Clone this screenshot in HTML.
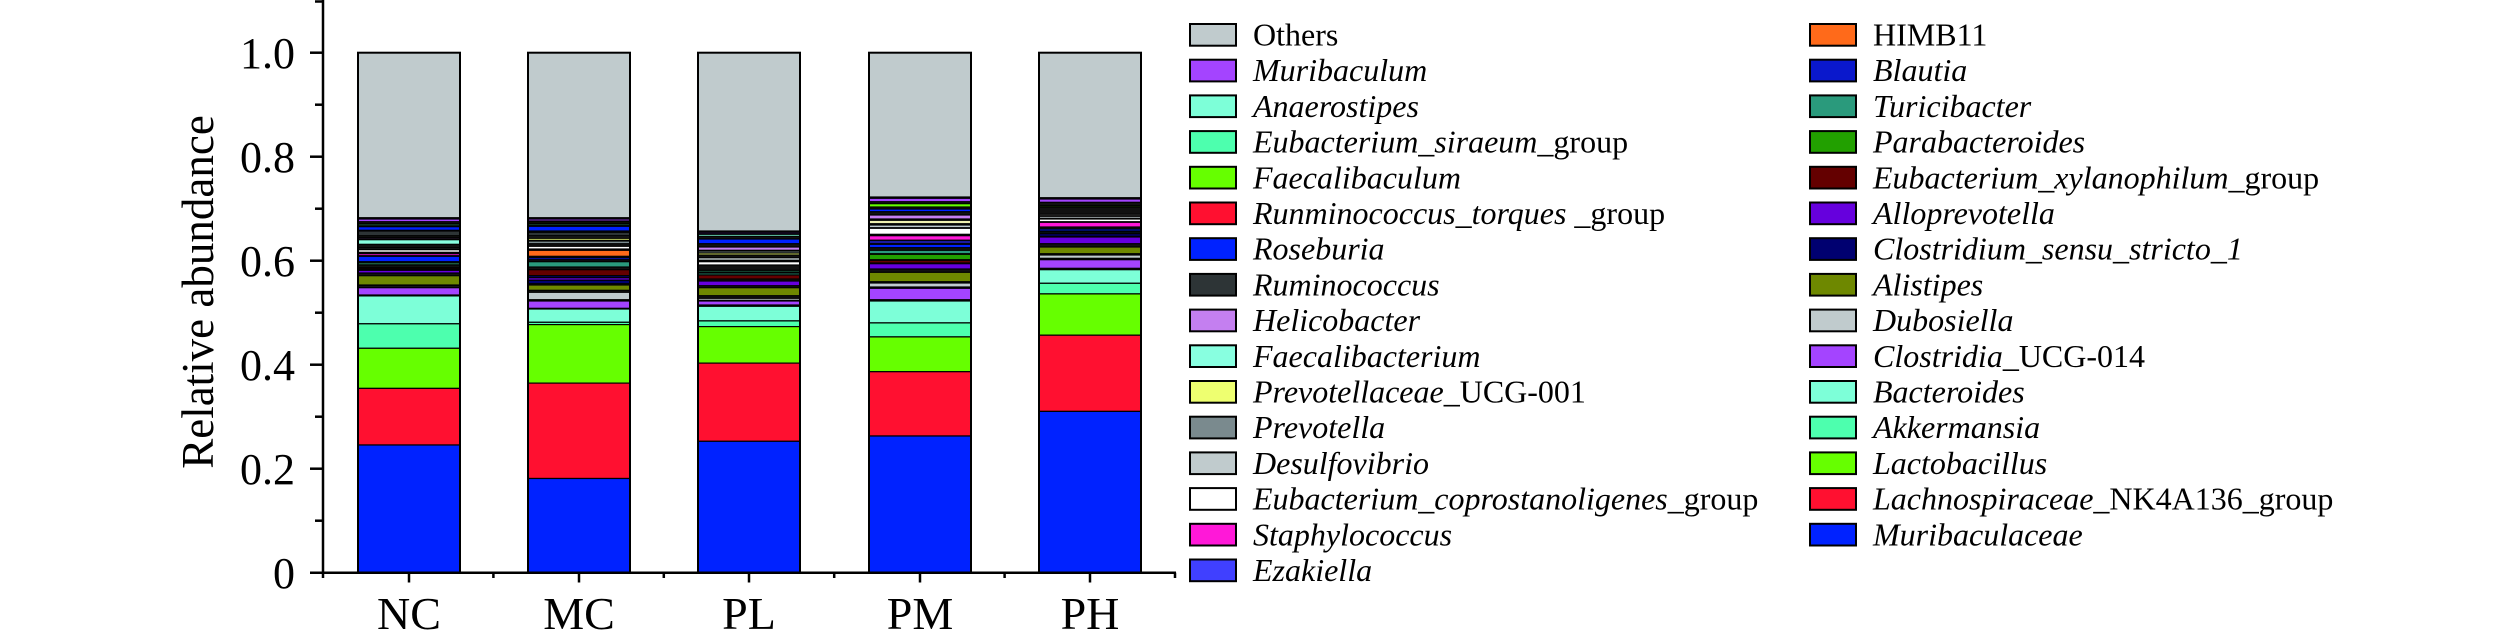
<!DOCTYPE html>
<html><head><meta charset="utf-8"><style>
html,body{margin:0;padding:0;background:#fff;}
svg{display:block;}
text{font-family:"Liberation Serif","Times New Roman",serif;fill:#000;}
.lg{font-size:32px;}
.it{font-style:italic;}
</style></head><body>
<svg width="2520" height="642" viewBox="0 0 2520 642" xmlns="http://www.w3.org/2000/svg">
<rect width="2520" height="642" fill="#fff"/>

<!-- Bars -->
<g stroke="#000" stroke-width="1.2">
<!-- NC x 358-460 -->
<rect x="358" y="52.7" width="102" height="520" fill="#111"/>
<rect x="358" y="52.7" width="102" height="165" fill="#c0cbcd"/>
<rect x="358" y="219" width="102" height="2.7" fill="#a444ff"/>
<rect x="358" y="223.7" width="102" height="2.3" fill="#1a4a30"/>
<rect x="358" y="226.7" width="102" height="3.6" fill="#0022ff"/>
<rect x="358" y="231" width="102" height="4.7" fill="#2d3436"/>
<rect x="358" y="237.7" width="102" height="1.3" fill="#c47ff0"/>
<rect x="358" y="239.7" width="102" height="4.6" fill="#88ffe0"/>
<rect x="358" y="247.7" width="102" height="1.3" fill="#c0cbcd"/>
<rect x="358" y="249.7" width="102" height="2.6" fill="#ffffff"/>
<rect x="358" y="253.7" width="102" height="2" fill="#ff18d8"/>
<rect x="358" y="256.3" width="102" height="5.4" fill="#0022ff"/>
<rect x="358" y="262.3" width="102" height="2.7" fill="#1a5a40"/>
<rect x="358" y="267.7" width="102" height="1.3" fill="#640000"/>
<rect x="358" y="270.3" width="102" height="2.7" fill="#6600dd"/>
<rect x="358" y="275.7" width="102" height="9.3" fill="#6e8800"/>
<rect x="358" y="285.7" width="102" height="1.3" fill="#c0cbcd"/>
<rect x="358" y="287.7" width="102" height="7.3" fill="#a444ff"/>
<rect x="358" y="295.9" width="102" height="27.9" fill="#7dffd8"/>
<rect x="358" y="323.8" width="102" height="24.5" fill="#4dffae"/>
<rect x="358" y="348.3" width="102" height="40.1" fill="#66ff00"/>
<rect x="358" y="388.4" width="102" height="56.6" fill="#ff1030"/>
<rect x="358" y="445" width="102" height="127.7" fill="#0022ff"/>

<!-- MC x 528-630 -->
<rect x="528" y="52.7" width="102" height="520" fill="#111"/>
<rect x="528" y="52.7" width="102" height="165" fill="#c0cbcd"/>
<rect x="528" y="219" width="102" height="2" fill="#a444ff"/>
<rect x="528" y="221.7" width="102" height="1.3" fill="#6e8800"/>
<rect x="528" y="223.7" width="102" height="2" fill="#1a4a30"/>
<rect x="528" y="226.3" width="102" height="4.7" fill="#0022ff"/>
<rect x="528" y="232.3" width="102" height="3.4" fill="#2d3436"/>
<rect x="528" y="236.3" width="102" height="1.4" fill="#c0cbcd"/>
<rect x="528" y="238.3" width="102" height="2" fill="#eeff70"/>
<rect x="528" y="241" width="102" height="2.7" fill="#7a8a8e"/>
<rect x="528" y="246.3" width="102" height="2.7" fill="#ffffff"/>
<rect x="528" y="250.3" width="102" height="6" fill="#ff6a1a"/>
<rect x="528" y="257.7" width="102" height="2" fill="#0a18cc"/>
<rect x="528" y="261.7" width="102" height="5.3" fill="#2a9a7c"/>
<rect x="528" y="269.7" width="102" height="6" fill="#640000"/>
<rect x="528" y="275.7" width="102" height="2" fill="#000070"/>
<rect x="528" y="277.7" width="102" height="2.6" fill="#6600dd"/>
<rect x="528" y="280.3" width="102" height="3.4" fill="#000070"/>
<rect x="528" y="285" width="102" height="5.3" fill="#6e8800"/>
<rect x="528" y="292.3" width="102" height="7.4" fill="#c0cbcd"/>
<rect x="528" y="301" width="102" height="7.3" fill="#a444ff"/>
<rect x="528" y="309" width="102" height="13.3" fill="#7dffd8"/>
<rect x="528" y="322.3" width="102" height="2.3" fill="#4dffae"/>
<rect x="528" y="324.6" width="102" height="58.5" fill="#66ff00"/>
<rect x="528" y="383.1" width="102" height="95.4" fill="#ff1030"/>
<rect x="528" y="478.5" width="102" height="94.2" fill="#0022ff"/>

<!-- PL x 698-800 -->
<rect x="698" y="52.7" width="102" height="520" fill="#111"/>
<rect x="698" y="52.7" width="102" height="178.3" fill="#c0cbcd"/>
<rect x="698" y="232.3" width="102" height="1.4" fill="#a444ff"/>
<rect x="698" y="234.3" width="102" height="2" fill="#7dffd8"/>
<rect x="698" y="239" width="102" height="4.7" fill="#0022ff"/>
<rect x="698" y="247" width="102" height="3.3" fill="#c47ff0"/>
<rect x="698" y="251" width="102" height="2" fill="#7a8a8e"/>
<rect x="698" y="253" width="102" height="2" fill="#eeff70"/>
<rect x="698" y="257.7" width="102" height="2.6" fill="#c0cbcd"/>
<rect x="698" y="261.7" width="102" height="3.3" fill="#ffffff"/>
<rect x="698" y="270.3" width="102" height="2" fill="#1a5a40"/>
<rect x="698" y="273" width="102" height="2" fill="#2a9a7c"/>
<rect x="698" y="275" width="102" height="4" fill="#640000"/>
<rect x="698" y="281" width="102" height="4.7" fill="#6600dd"/>
<rect x="698" y="287.7" width="102" height="8" fill="#6e8800"/>
<rect x="698" y="298.3" width="102" height="2" fill="#c0cbcd"/>
<rect x="698" y="301" width="102" height="4" fill="#a444ff"/>
<rect x="698" y="306.3" width="102" height="14.6" fill="#7dffd8"/>
<rect x="698" y="320.9" width="102" height="5.7" fill="#4dffae"/>
<rect x="698" y="326.6" width="102" height="36.5" fill="#66ff00"/>
<rect x="698" y="363.1" width="102" height="78.2" fill="#ff1030"/>
<rect x="698" y="441.3" width="102" height="131.4" fill="#0022ff"/>

<!-- PM x 869-971 -->
<rect x="869" y="52.7" width="102" height="520" fill="#111"/>
<rect x="869" y="52.7" width="102" height="144.3" fill="#c0cbcd"/>
<rect x="869" y="198.3" width="102" height="3.4" fill="#a444ff"/>
<rect x="869" y="203.7" width="102" height="3.3" fill="#66ff00"/>
<rect x="869" y="209" width="102" height="2.7" fill="#0022ff"/>
<rect x="869" y="215" width="102" height="4" fill="#c47ff0"/>
<rect x="869" y="220.3" width="102" height="3.4" fill="#f0f0b0"/>
<rect x="869" y="225" width="102" height="2.7" fill="#c0cbcd"/>
<rect x="869" y="228.3" width="102" height="6" fill="#ffffff"/>
<rect x="869" y="235.7" width="102" height="4.6" fill="#ff18d8"/>
<rect x="869" y="240.3" width="102" height="3.4" fill="#1a1aa0"/>
<rect x="869" y="244.3" width="102" height="3.4" fill="#0022ff"/>
<rect x="869" y="250.3" width="102" height="3.4" fill="#2a9a7c"/>
<rect x="869" y="254.3" width="102" height="5.4" fill="#22a000"/>
<rect x="869" y="260.3" width="102" height="2.7" fill="#640000"/>
<rect x="869" y="263.7" width="102" height="5.3" fill="#6600dd"/>
<rect x="869" y="272.3" width="102" height="9.4" fill="#6e8800"/>
<rect x="869" y="283" width="102" height="4" fill="#c0cbcd"/>
<rect x="869" y="288.3" width="102" height="11.4" fill="#a444ff"/>
<rect x="869" y="301" width="102" height="21.9" fill="#7dffd8"/>
<rect x="869" y="322.9" width="102" height="14" fill="#4dffae"/>
<rect x="869" y="336.9" width="102" height="34.8" fill="#66ff00"/>
<rect x="869" y="371.7" width="102" height="64.3" fill="#ff1030"/>
<rect x="869" y="436" width="102" height="136.7" fill="#0022ff"/>

<!-- PH x 1039-1141 -->
<rect x="1039" y="52.7" width="102" height="520" fill="#111"/>
<rect x="1039" y="52.7" width="102" height="145" fill="#c0cbcd"/>
<rect x="1039" y="199" width="102" height="3.3" fill="#a444ff"/>
<rect x="1039" y="205.7" width="102" height="1.3" fill="#66ff00"/>
<rect x="1039" y="214.3" width="102" height="1.4" fill="#ffffff"/>
<rect x="1039" y="216.3" width="102" height="2" fill="#c0cbcd"/>
<rect x="1039" y="219" width="102" height="2.7" fill="#ffffff"/>
<rect x="1039" y="222.3" width="102" height="4.7" fill="#ff18d8"/>
<rect x="1039" y="229" width="102" height="2" fill="#0022ff"/>
<rect x="1039" y="231.7" width="102" height="1.3" fill="#2a9a7c"/>
<rect x="1039" y="233.7" width="102" height="2.6" fill="#000070"/>
<rect x="1039" y="237" width="102" height="6.7" fill="#6600dd"/>
<rect x="1039" y="247" width="102" height="6.7" fill="#6e8800"/>
<rect x="1039" y="255" width="102" height="3.3" fill="#c0cbcd"/>
<rect x="1039" y="259.7" width="102" height="8.6" fill="#a444ff"/>
<rect x="1039" y="269.7" width="102" height="13.6" fill="#7dffd8"/>
<rect x="1039" y="283.3" width="102" height="10.6" fill="#4dffae"/>
<rect x="1039" y="293.9" width="102" height="41.3" fill="#66ff00"/>
<rect x="1039" y="335.2" width="102" height="76.2" fill="#ff1030"/>
<rect x="1039" y="411.4" width="102" height="161.3" fill="#0022ff"/>
</g>
<g fill="none" stroke="#000" stroke-width="2">
<rect x="358" y="52.7" width="102" height="520"/>
<rect x="528" y="52.7" width="102" height="520"/>
<rect x="698" y="52.7" width="102" height="520"/>
<rect x="869" y="52.7" width="102" height="520"/>
<rect x="1039" y="52.7" width="102" height="520"/>
</g>

<!-- Axes -->
<g stroke="#000" stroke-width="2.5" fill="none">
<line x1="323" y1="0" x2="323" y2="573.5"/>
<line x1="310" y1="572.7" x2="1176" y2="572.7"/>
<!-- y major ticks -->
<line x1="310" y1="468.7" x2="323" y2="468.7"/>
<line x1="310" y1="364.7" x2="323" y2="364.7"/>
<line x1="310" y1="260.7" x2="323" y2="260.7"/>
<line x1="310" y1="156.7" x2="323" y2="156.7"/>
<line x1="310" y1="52.7" x2="323" y2="52.7"/>
<!-- y minor ticks -->
<line x1="315" y1="520.7" x2="323" y2="520.7"/>
<line x1="315" y1="416.7" x2="323" y2="416.7"/>
<line x1="315" y1="312.7" x2="323" y2="312.7"/>
<line x1="315" y1="208.7" x2="323" y2="208.7"/>
<line x1="315" y1="104.7" x2="323" y2="104.7"/>
<line x1="315" y1="1.5" x2="323" y2="1.5"/>
<!-- x ticks -->
<line x1="323" y1="572.7" x2="323" y2="578"/>
<line x1="493.4" y1="572.7" x2="493.4" y2="578"/>
<line x1="663.8" y1="572.7" x2="663.8" y2="578"/>
<line x1="834.2" y1="572.7" x2="834.2" y2="578"/>
<line x1="1004.6" y1="572.7" x2="1004.6" y2="578"/>
<line x1="1175" y1="572.7" x2="1175" y2="578"/>
<line x1="409" y1="572.7" x2="409" y2="582.5"/>
<line x1="579" y1="572.7" x2="579" y2="582.5"/>
<line x1="749" y1="572.7" x2="749" y2="582.5"/>
<line x1="920" y1="572.7" x2="920" y2="582.5"/>
<line x1="1090" y1="572.7" x2="1090" y2="582.5"/>
</g>

<!-- Y tick labels -->
<g font-size="44" text-anchor="end">
<text x="295" y="588">0</text>
<text x="295" y="484">0.2</text>
<text x="295" y="380">0.4</text>
<text x="295" y="276">0.6</text>
<text x="295" y="172">0.8</text>
<text x="295" y="68">1.0</text>
</g>
<!-- X labels -->
<g font-size="46" text-anchor="middle">
<text x="409" y="629">NC</text>
<text x="579" y="629">MC</text>
<text x="749" y="629">PL</text>
<text x="920" y="629">PM</text>
<text x="1090" y="629">PH</text>
</g>
<!-- Y title -->
<text font-size="45" text-anchor="middle" transform="translate(213,292) rotate(-90)">Relative abundance</text>

<!-- Legend column 1 -->
<g stroke="#000" stroke-width="2">
<rect x="1190" y="24" width="46" height="21.7" fill="#c0cbcd"/>
<rect x="1190" y="59.7" width="46" height="21.7" fill="#a444ff"/>
<rect x="1190" y="95.4" width="46" height="21.7" fill="#7dffd8"/>
<rect x="1190" y="131.1" width="46" height="21.7" fill="#4dffae"/>
<rect x="1190" y="166.8" width="46" height="21.7" fill="#66ff00"/>
<rect x="1190" y="202.5" width="46" height="21.7" fill="#ff1030"/>
<rect x="1190" y="238.2" width="46" height="21.7" fill="#0022ff"/>
<rect x="1190" y="273.9" width="46" height="21.7" fill="#2d3436"/>
<rect x="1190" y="309.6" width="46" height="21.7" fill="#c47ff0"/>
<rect x="1190" y="345.3" width="46" height="21.7" fill="#88ffe0"/>
<rect x="1190" y="381" width="46" height="21.7" fill="#eeff70"/>
<rect x="1190" y="416.7" width="46" height="21.7" fill="#7a8a8e"/>
<rect x="1190" y="452.4" width="46" height="21.7" fill="#c0cbcd"/>
<rect x="1190" y="488.1" width="46" height="21.7" fill="#ffffff"/>
<rect x="1190" y="523.8" width="46" height="21.7" fill="#ff18d8"/>
<rect x="1190" y="559.5" width="46" height="21.7" fill="#4040ff"/>
</g>
<g class="lg">
<text x="1253" y="45.5">Others</text>
<text x="1253" y="81.2" class="it">Muribaculum</text>
<text x="1253" y="116.9" class="it">Anaerostipes</text>
<text x="1253" y="152.6"><tspan class="it">Eubacterium_siraeum</tspan>_group</text>
<text x="1253" y="188.3" class="it">Faecalibaculum</text>
<text x="1253" y="224"><tspan class="it">Runminococcus_torques</tspan> _group</text>
<text x="1253" y="259.7" class="it">Roseburia</text>
<text x="1253" y="295.4" class="it">Ruminococcus</text>
<text x="1253" y="331.1" class="it">Helicobacter</text>
<text x="1253" y="366.8" class="it">Faecalibacterium</text>
<text x="1253" y="402.5"><tspan class="it">Prevotellaceae</tspan>_UCG-001</text>
<text x="1253" y="438.2" class="it">Prevotella</text>
<text x="1253" y="473.9" class="it">Desulfovibrio</text>
<text x="1253" y="509.6"><tspan class="it">Eubacterium_coprostanoligenes</tspan>_group</text>
<text x="1253" y="545.3" class="it">Staphylococcus</text>
<text x="1253" y="581" class="it">Ezakiella</text>
</g>

<!-- Legend column 2 -->
<g stroke="#000" stroke-width="2">
<rect x="1810" y="24" width="46" height="21.7" fill="#ff6a1a"/>
<rect x="1810" y="59.7" width="46" height="21.7" fill="#0a18cc"/>
<rect x="1810" y="95.4" width="46" height="21.7" fill="#2a9a7c"/>
<rect x="1810" y="131.1" width="46" height="21.7" fill="#22a000"/>
<rect x="1810" y="166.8" width="46" height="21.7" fill="#640000"/>
<rect x="1810" y="202.5" width="46" height="21.7" fill="#6600dd"/>
<rect x="1810" y="238.2" width="46" height="21.7" fill="#000070"/>
<rect x="1810" y="273.9" width="46" height="21.7" fill="#6e8800"/>
<rect x="1810" y="309.6" width="46" height="21.7" fill="#c0cbcd"/>
<rect x="1810" y="345.3" width="46" height="21.7" fill="#a444ff"/>
<rect x="1810" y="381" width="46" height="21.7" fill="#7dffd8"/>
<rect x="1810" y="416.7" width="46" height="21.7" fill="#4dffae"/>
<rect x="1810" y="452.4" width="46" height="21.7" fill="#66ff00"/>
<rect x="1810" y="488.1" width="46" height="21.7" fill="#ff1030"/>
<rect x="1810" y="523.8" width="46" height="21.7" fill="#0022ff"/>
</g>
<g class="lg">
<text x="1873" y="45.5">HIMB11</text>
<text x="1873" y="81.2" class="it">Blautia</text>
<text x="1873" y="116.9" class="it">Turicibacter</text>
<text x="1873" y="152.6" class="it">Parabacteroides</text>
<text x="1873" y="188.3"><tspan class="it">Eubacterium_xylanophilum</tspan>_group</text>
<text x="1873" y="224" class="it">Alloprevotella</text>
<text x="1873" y="259.7" class="it">Clostridium_sensu_stricto_1</text>
<text x="1873" y="295.4" class="it">Alistipes</text>
<text x="1873" y="331.1" class="it">Dubosiella</text>
<text x="1873" y="366.8"><tspan class="it">Clostridia</tspan>_UCG-014</text>
<text x="1873" y="402.5" class="it">Bacteroides</text>
<text x="1873" y="438.2" class="it">Akkermansia</text>
<text x="1873" y="473.9" class="it">Lactobacillus</text>
<text x="1873" y="509.6"><tspan class="it">Lachnospiraceae</tspan>_NK4A136_group</text>
<text x="1873" y="545.3" class="it">Muribaculaceae</text>
</g>
</svg>
</body></html>
